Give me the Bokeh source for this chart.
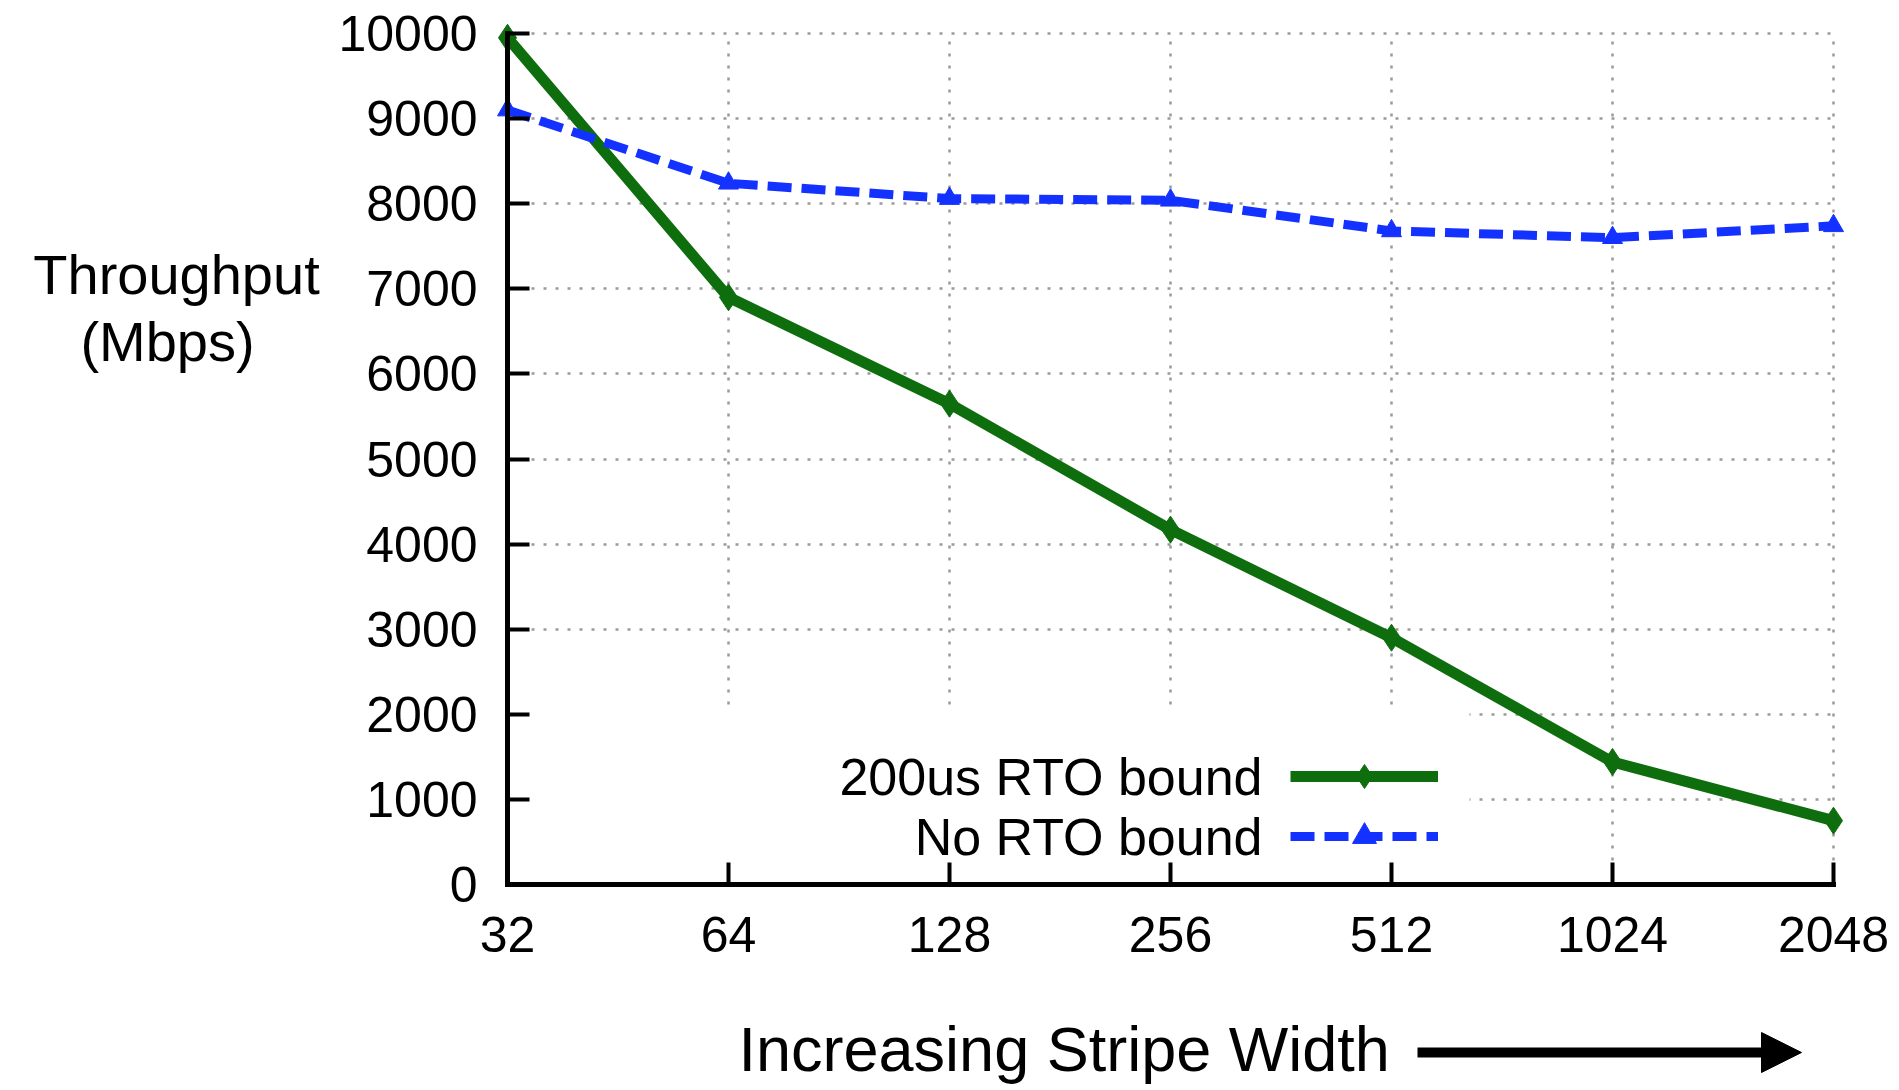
from bokeh.plotting import figure
from bokeh.models import (Label, Arrow, NormalHead, BoxAnnotation, Legend,
                          LegendItem, FixedTicker, Range1d, Grid)
from bokeh.embed import file_html
from bokeh.resources import INLINE
import math

# ---------------- data ----------------
stripe_width = [32, 64, 128, 256, 512, 1024, 2048]
x_tick_labels = ["32", "64", "128", "256", "512", "1024", "2048"]
rto_200us = [9950, 6900, 5650, 4170, 2900, 1440, 750]
no_rto = [9100, 8240, 8060, 8040, 7680, 7600, 7740]
y_ticks = [0, 1000, 2000, 3000, 4000, 5000, 6000, 7000, 8000, 9000, 10000]
series_names = ["200us RTO bound", "No RTO bound"]
y_label_lines = ["Throughput", "(Mbps)"]
x_label = "Increasing Stripe Width"

# ---------------- layout (canvas pixels) ----------------
FONT = "Liberation Sans"
GREEN = "#0e6e0e"
BLUE = "#1432ff"
W, H = 1890, 1086
X_LO_PX, X_HI_PX = 507, 1833      # where the first / last stripe width sit
Y_LO_PX, Y_HI_PX = 884, 33        # where 0 / 10000 sit (from top)
BASELINE_FIX = 24                 # alphabetic labels render this much lower

x_lo, x_hi = min(stripe_width), max(stripe_width)
y_lo, y_hi = y_ticks[0], y_ticks[-1]
px_per_oct = (X_HI_PX - X_LO_PX) / math.log2(x_hi / x_lo)
units_per_px = (y_hi - y_lo) / (Y_LO_PX - Y_HI_PX)

def sy(page_y):          # screen y measured from the bottom of the frame
    return H - page_y

p = figure(width=W, height=H, x_axis_type="log",
           x_range=Range1d(x_lo * 2 ** (-X_LO_PX / px_per_oct),
                           x_hi * 2 ** ((W - X_HI_PX) / px_per_oct)),
           y_range=Range1d(y_lo - (H - Y_LO_PX) * units_per_px,
                           y_hi + Y_HI_PX * units_per_px),
           output_backend="svg", toolbar_location=None,
           min_border_left=0, min_border_right=0,
           min_border_top=0, min_border_bottom=0)
p.outline_line_color = None
p.background_fill_color = "white"
p.border_fill_color = "white"

# axes, drawn at the data origin
xax = p.xaxis[0]
yax = p.yaxis[0]
xax.ticker = FixedTicker(ticks=stripe_width)
xax.major_label_overrides = {v: t for v, t in zip(stripe_width, x_tick_labels)}
yax.ticker = FixedTicker(ticks=y_ticks)
yax.major_label_overrides = {v: str(v) for v in y_ticks}
xax.fixed_location = y_lo
yax.fixed_location = x_lo
xax.bounds = (x_lo, x_hi)
yax.bounds = (y_lo, y_hi)
for ax in (xax, yax):
    ax.axis_line_color = "black"
    ax.axis_line_width = 5
    ax.axis_line_cap = "square"
    ax.major_tick_line_color = "black"
    ax.major_tick_line_width = 4
    ax.major_tick_in = 22
    ax.major_tick_out = 0
    ax.minor_tick_line_color = None
    ax.major_label_text_font = FONT
    ax.major_label_text_font_size = "50px"
    ax.major_label_text_color = "black"
xax.major_label_standoff = 32
yax.major_label_standoff = 30

# grid
p.xgrid.ticker = FixedTicker(ticks=stripe_width)
p.ygrid.ticker = FixedTicker(ticks=y_ticks)
p.grid.grid_line_color = "#9a9a9a"
p.grid.grid_line_width = 2.5
p.grid.grid_line_dash = "3 9"
if "cross_bounds" in Grid.properties():
    p.xgrid.cross_bounds = (y_lo, y_hi)
    p.ygrid.cross_bounds = (x_lo, x_hi)

# white boxes hiding grid outside the data area and behind the legend
def white_box(l, r, b, t):
    p.add_layout(BoxAnnotation(left=l, right=r, bottom=b, top=t,
                               left_units="screen", right_units="screen",
                               bottom_units="screen", top_units="screen",
                               fill_color="white", fill_alpha=1.0,
                               line_color=None, level="underlay"))

white_box(-50, X_LO_PX - 2, -50, H + 50)
white_box(X_HI_PX + 2, W + 50, -50, H + 50)
white_box(-50, W + 50, sy(Y_HI_PX - 2), H + 50)
white_box(-50, W + 50, -50, sy(Y_LO_PX + 2))
white_box(X_LO_PX, 1469, 0, sy(708))

# series
g_line = p.line(stripe_width, rto_200us, line_color=GREEN, line_width=11,
                line_join="round")
g_pts = p.scatter(stripe_width, rto_200us, marker="diamond", size=27,
                  fill_color=GREEN, line_color=GREEN)
b_line = p.line(stripe_width, no_rto, line_color=BLUE, line_width=9,
                line_dash="24 10")
b_pts = p.scatter(stripe_width, no_rto, marker="triangle", size=20,
                  fill_color=BLUE, line_color=BLUE)

# legend (samples only; labels drawn to their left)
legend = Legend(items=[LegendItem(label=" ", renderers=[g_line, g_pts]),
                       LegendItem(label=" ", renderers=[b_line, b_pts])],
                location=(1290, sy(866)), glyph_width=148, glyph_height=60,
                spacing=0, padding=0, margin=0, label_standoff=0,
                label_width=0, label_height=0, label_text_font_size="1px",
                border_line_alpha=0, background_fill_alpha=0)
p.add_layout(legend)
for name, yy in zip(series_names, [776, 836]):
    p.add_layout(Label(x=1262, y=sy(yy), x_units="screen", y_units="screen",
                       text=name, text_font=FONT, text_font_size="52px",
                       text_align="right", text_baseline="middle",
                       text_color="black"))

# y axis title (horizontal, two lines)
for txt, xx, yy in zip(y_label_lines, [176, 167], [298, 365]):
    p.add_layout(Label(x=xx, y=sy(yy - BASELINE_FIX), x_units="screen",
                       y_units="screen", text=txt, text_font=FONT,
                       text_font_size="56px", text_align="center",
                       text_baseline="alphabetic", text_color="black"))

# x axis title with arrow
p.add_layout(Label(x=738, y=sy(1072 - BASELINE_FIX), x_units="screen",
                   y_units="screen", text=x_label, text_font=FONT,
                   text_font_size="63px", text_align="left",
                   text_baseline="alphabetic", text_color="black"))
p.add_layout(Arrow(end=NormalHead(size=40, fill_color="black",
                                  line_color="black"),
                   x_start=1417, y_start=sy(1052), x_end=1801, y_end=sy(1052),
                   start_units="screen", end_units="screen",
                   line_width=10, line_color="black"))

open("out.html", "w").write(file_html(p, INLINE))
